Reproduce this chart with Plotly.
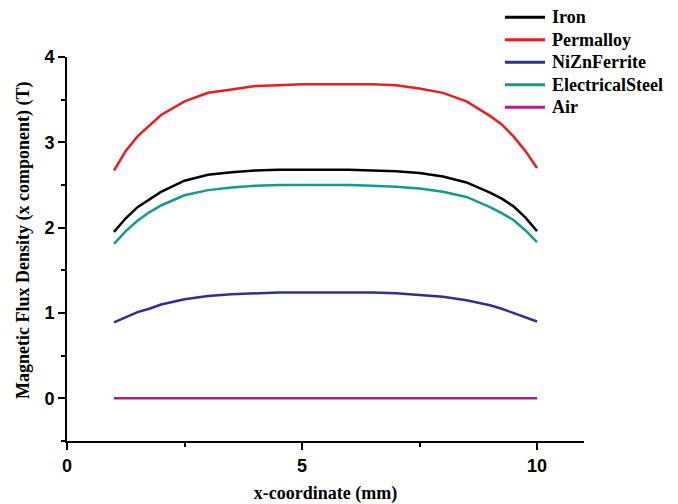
import plotly.graph_objects as go

x = [1, 1.25, 1.5, 1.75, 2, 2.5, 3, 3.5, 4, 4.5, 5, 5.5, 6, 6.5, 7, 7.5, 8, 8.5, 9, 9.25, 9.5, 9.75, 10]
iron = [1.95, 2.11, 2.24, 2.33, 2.42, 2.55, 2.62, 2.65, 2.67, 2.68, 2.68, 2.68, 2.68, 2.67, 2.66, 2.64, 2.60, 2.53, 2.41, 2.34, 2.25, 2.12, 1.96]
permalloy = [2.67, 2.90, 3.07, 3.19, 3.32, 3.48, 3.58, 3.62, 3.66, 3.67, 3.68, 3.68, 3.68, 3.68, 3.67, 3.63, 3.58, 3.48, 3.31, 3.21, 3.07, 2.90, 2.70]
nizn = [0.89, 0.95, 1.01, 1.05, 1.10, 1.16, 1.20, 1.22, 1.23, 1.24, 1.24, 1.24, 1.24, 1.24, 1.23, 1.21, 1.19, 1.15, 1.09, 1.05, 1.00, 0.95, 0.90]
steel = [1.81, 1.96, 2.08, 2.18, 2.26, 2.38, 2.44, 2.47, 2.49, 2.50, 2.50, 2.50, 2.50, 2.49, 2.48, 2.46, 2.42, 2.36, 2.24, 2.17, 2.09, 1.97, 1.83]
air = [0.0] * len(x)

names = ["Iron", "Permalloy", "NiZnFerrite", "ElectricalSteel", "Air"]
colors = ["#000000", "#ED1C24", "#2E3192", "#139A91", "#A8228A"]
series = [iron, permalloy, nizn, steel, air]

x_title = "x-coordinate (mm)"
y_title = "Magnetic Flux Density (x component) (T)"

serif = "Liberation Serif, Times New Roman, serif"
sans = "Liberation Sans, Arial, sans-serif"

fig = go.Figure()
for n, c, s in zip(names, colors, series):
    fig.add_trace(go.Scatter(x=x, y=s, mode="lines", name=n, showlegend=False,
                             line=dict(color=c, width=2.5)))

# custom legend (paper coordinates) for tight row spacing
leg_x0, leg_x1, leg_tx = 0.847, 0.9246, 0.934
leg_y0, leg_dy = 1.1034, 0.0586
for i, (n, c) in enumerate(zip(names, colors)):
    yy = leg_y0 - i * leg_dy
    fig.add_shape(type="line", xref="paper", yref="paper", x0=leg_x0, x1=leg_x1,
                  y0=yy, y1=yy, line=dict(color=c, width=3))
    fig.add_annotation(xref="paper", yref="paper", x=leg_tx, y=yy, text=n,
                       showarrow=False, xanchor="left", yanchor="middle",
                       font=dict(family=serif, size=18, color="black", weight="bold"))

# y-axis title placed as rotated annotation
fig.add_annotation(xref="paper", yref="paper", x=-0.083, y=0.521, text=y_title,
                   showarrow=False, textangle=-90, xanchor="center", yanchor="middle",
                   font=dict(family=serif, size=18, color="black", weight="bold"))

fig.update_layout(
    width=678, height=504,
    margin=dict(l=67, r=94, t=57, b=63, autoexpand=False),
    paper_bgcolor="white", plot_bgcolor="white",
    showlegend=False,
    xaxis=dict(range=[0, 11], showgrid=False, zeroline=False, automargin=False,
               showline=True, linecolor="black", linewidth=2,
               tickmode="array", tickvals=[0, 5, 10], ticktext=["0", "5", "10"],
               ticks="outside", ticklen=7, tickwidth=2, tickcolor="black",
               minor=dict(tickvals=[2.5, 7.5], ticks="outside", ticklen=4, tickwidth=2, tickcolor="black"),
               tickfont=dict(family=sans, size=18, color="black", weight="bold"),
               title=dict(text=x_title, standoff=21,
                          font=dict(family=serif, size=18, color="black", weight="bold"))),
    yaxis=dict(range=[-0.5, 4], showgrid=False, zeroline=False, automargin=False,
               showline=True, linecolor="black", linewidth=2,
               tickmode="array", tickvals=[0, 1, 2, 3, 4], ticktext=["0", "1", "2", "3", "4"],
               ticks="outside", ticklen=7, tickwidth=2, tickcolor="black",
               minor=dict(tickvals=[-0.5, 0.5, 1.5, 2.5, 3.5], ticks="outside", ticklen=4, tickwidth=2, tickcolor="black"),
               tickfont=dict(family=sans, size=18, color="black", weight="bold")),
)

fig.write_html("out.html")
